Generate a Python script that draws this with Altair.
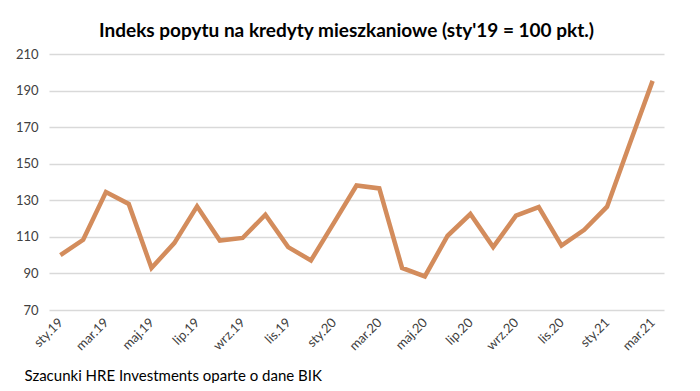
import altair as alt
import pandas as pd

months = ["sty.19", "lut.19", "mar.19", "kwi.19", "maj.19", "cze.19", "lip.19", "sie.19",
          "wrz.19", "paź.19", "lis.19", "gru.19", "sty.20", "lut.20", "mar.20", "kwi.20",
          "maj.20", "cze.20", "lip.20", "sie.20", "wrz.20", "paź.20", "lis.20", "gru.20",
          "sty.21", "lut.21", "mar.21"]
values = [100, 108.4, 134.5, 128, 93, 106.6, 126.7, 108, 109.4, 122.1, 104.4, 97.1,
          117.5, 138.1, 136.5, 93, 88.4, 110.6, 122.5, 104.4, 121.6, 126.3, 105.2, 113.9,
          126.5, 161, 195.3]
tick_labels = months[::2]
y_ticks = [70, 90, 110, 130, 150, 170, 190, 210]

df = pd.DataFrame({"month": months, "value": values})

FONT = "Lato"

chart = alt.Chart(df).mark_line(color="#D38C5C", strokeWidth=4.5, strokeJoin="miter").encode(
    x=alt.X("month:O", sort=months,
            scale=alt.Scale(type="point", padding=0.5),
            axis=alt.Axis(values=tick_labels, labelAngle=-45, labelAlign="right",
                          labelBaseline="middle", labelFontSize=13, labelColor="#404040",
                          labelFont=FONT, ticks=False, domain=False, labelPadding=10,
                          grid=False, labelBound=False, labelOverlap=False,
                          title="Szacunki HRE Investments oparte o dane BIK",
                          titleFont=FONT, titleFontSize=15, titleFontWeight="normal",
                          titleColor="#000000", titleAnchor="start", titleAlign="left",
                          titleBaseline="alphabetic", titleX=-25, titleY=70, titleAngle=0)),
    y=alt.Y("value:Q", scale=alt.Scale(domain=[70, 210], nice=False, zero=False),
            axis=alt.Axis(values=y_ticks, title=None, labelFontSize=13, labelColor="#404040",
                          labelFont=FONT, ticks=False, domain=False, labelPadding=11,
                          gridColor="#D9D9D9", gridWidth=1.3)),
).properties(
    width=615, height=256,
    title=alt.Title("Indeks popytu na kredyty mieszkaniowe (sty'19 = 100 pkt.)",
                    font=FONT, fontSize=19, fontWeight="bold", color="#000000",
                    anchor="middle", dx=-10, offset=7),
    autosize=alt.AutoSizeParams(type="none"),
    padding={"left": 41, "top": 46, "right": 28, "bottom": 73},
).configure_view(stroke=None)

chart.save("out.html", embed_options={"renderer": "svg", "actions": False})
